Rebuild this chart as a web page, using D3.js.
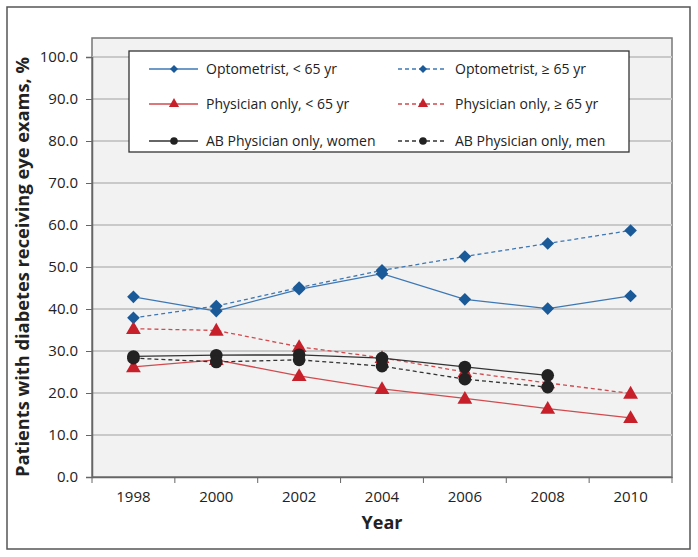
<!DOCTYPE html>
<html><head><meta charset="utf-8">
<script src="https://cdn.jsdelivr.net/npm/d3@7"></script>
<style>body{margin:0;background:#fff}svg{display:block}text{font-family:"Open Sans",sans-serif;fill:#222}</style>
</head><body><svg id="c" width="698" height="557"></svg>
<script>
const years = [1998, 2000, 2002, 2004, 2006, 2008, 2010];
const yTicks = [0, 10, 20, 30, 40, 50, 60, 70, 80, 90, 100];
const optUnder65 = [42.9, 39.5, 44.7, 48.4, 42.3, 40.1, 43.1];
const optOver65 = [37.9, 40.7, 45.1, 49.2, 52.5, 55.6, 58.7];
const physUnder65 = [26.2, 27.9, 24.1, 21.0, 18.7, 16.3, 14.1];
const physOver65 = [35.3, 34.9, 31.0, 28.4, 25.0, 22.4, 19.9];
const abWomen = [28.7, 29.0, 29.1, 28.3, 26.2, 24.2, null];
const abMen = [28.3, 27.4, 27.9, 26.4, 23.3, 21.4, null];
const seriesNames = ["Optometrist, < 65 yr", "Optometrist, \u2265 65 yr", "Physician only, < 65 yr", "Physician only, \u2265 65 yr", "AB Physician only, women", "AB Physician only, men"];

const blue = "#1b5a98", blueLine = "#3d78b4", red = "#c8202b", redLine = "#d24a4e", black = "#222", blackLine = "#333";
const diamond = {draw(ctx, size) { const r = Math.sqrt(size / 2); ctx.moveTo(0, -r); ctx.lineTo(r, 0); ctx.lineTo(0, r); ctx.lineTo(-r, 0); ctx.closePath(); }};
const series = [
  {name: seriesNames[0], values: optUnder65, color: blue, line: blueLine, dash: null, sym: diamond},
  {name: seriesNames[1], values: optOver65, color: blue, line: blueLine, dash: "4,3", sym: diamond},
  {name: seriesNames[2], values: physUnder65, color: red, line: redLine, dash: null, sym: d3.symbolTriangle},
  {name: seriesNames[3], values: physOver65, color: red, line: redLine, dash: "4,3", sym: d3.symbolTriangle},
  {name: seriesNames[4], values: abWomen, color: black, line: blackLine, dash: null, sym: d3.symbolCircle},
  {name: seriesNames[5], values: abMen, color: black, line: blackLine, dash: "4,3", sym: d3.symbolCircle}
];

const svg = d3.select("#c");
const L = 92, R = 672, T = 38, B = 477;
const x = d3.scaleBand().domain(years).range([L, R]).padding(0);
const y = d3.scaleLinear().domain([0, 100]).range([B, 57]);
const cx = d => x(d) + x.bandwidth() / 2;

// outer frame
svg.append("rect").attr("x", 7).attr("y", 7).attr("width", 683).attr("height", 542)
  .attr("fill", "#fff").attr("stroke", "#555").attr("stroke-width", 1.5);

// plot area
svg.append("rect").attr("x", L).attr("y", T).attr("width", R - L).attr("height", B - T)
  .attr("fill", "#f2f2f2").attr("stroke", "#777").attr("stroke-width", 1.5);

// gridlines
svg.append("g").selectAll("line").data(yTicks.filter(v => v > 0)).join("line")
  .attr("x1", L).attr("x2", R).attr("y1", d => y(d)).attr("y2", d => y(d))
  .attr("stroke", "#c9c9c9").attr("stroke-width", 2);

// y axis
const yAxis = svg.append("g").attr("transform", `translate(${L},0)`)
  .call(d3.axisLeft(y).tickValues(yTicks).tickFormat(d3.format(".1f")).tickSize(6).tickPadding(8));
yAxis.select(".domain").attr("stroke", "#666").attr("stroke-width", 1.5);
yAxis.selectAll(".tick line").attr("stroke", "#666");
yAxis.selectAll(".tick text").style("font-size", "15px").attr("fill", "#222");

// x axis
const xAxis = svg.append("g").attr("transform", `translate(0,${B})`)
  .call(d3.axisBottom(x).tickSize(0).tickPadding(14));
xAxis.select(".domain").attr("stroke", "#666").attr("stroke-width", 1.5);
xAxis.selectAll(".tick text").style("font-size", "15px").attr("fill", "#222");
svg.append("g").selectAll("line").data(years.map(v => x(v)).concat([R])).join("line")
  .attr("x1", d => d).attr("x2", d => d).attr("y1", B).attr("y2", B + 6)
  .attr("stroke", "#666").attr("stroke-width", 1);

// lines
const line = d3.line().defined(d => d.v != null).x(d => cx(d.year)).y(d => y(d.v));
series.forEach(s => {
  const pts = years.map((yr, i) => ({year: yr, v: s.values[i]}));
  svg.append("path").datum(pts).attr("d", line).attr("fill", "none")
    .attr("stroke", s.line).attr("stroke-width", 1.3).attr("stroke-dasharray", s.dash);
});
// markers
series.forEach(s => {
  const pts = years.map((yr, i) => ({year: yr, v: s.values[i]})).filter(d => d.v != null);
  const size = s.sym === d3.symbolCircle ? 125 : (s.sym === d3.symbolTriangle ? 95 : 80);
  svg.append("g").selectAll("path").data(pts).join("path")
    .attr("transform", d => `translate(${cx(d.year)},${y(d.v) + (s.sym === d3.symbolTriangle ? 1 : 0)})`)
    .attr("d", d3.symbol().type(s.sym).size(size)).attr("fill", s.color);
});

// legend
const lg = svg.append("g");
lg.append("rect").attr("x", 129).attr("y", 51).attr("width", 500).attr("height", 101)
  .attr("fill", "#fff").attr("stroke", "#333").attr("stroke-width", 1.3);
const colX = [149, 398], rowY = [69, 104, 141];
series.forEach((s, i) => {
  const c = i % 2, r = Math.floor(i / 2);
  const x0 = colX[c], yy = rowY[r];
  lg.append("line").attr("x1", x0).attr("x2", x0 + 49).attr("y1", yy).attr("y2", yy)
    .attr("stroke", s.line).attr("stroke-width", 1.3).attr("stroke-dasharray", s.dash);
  lg.append("path").attr("transform", `translate(${x0 + 25},${yy})`)
    .attr("d", d3.symbol().type(s.sym).size(s.sym === d3.symbolCircle ? 45 : (s.sym === d3.symbolTriangle ? 45 : 32))).attr("fill", s.color);
  lg.append("text").attr("x", x0 + 57).attr("y", yy).attr("dy", "0.35em")
    .style("font-size", "14px").text(s.name);
});

// axis titles
svg.append("text").attr("x", 382).attr("y", 523).attr("dy", "0.35em").attr("text-anchor", "middle")
  .style("font-size", "18px").style("font-weight", "bold").text("Year");
svg.append("text").attr("transform", "translate(23,267) rotate(-90)").attr("dy", "0.35em")
  .attr("text-anchor", "middle").style("font-size", "17px").style("font-weight", "bold")
  .attr("textLength", 420).attr("lengthAdjust", "spacingAndGlyphs")
  .text("Patients with diabetes receiving eye exams, %");
</script></body></html>
